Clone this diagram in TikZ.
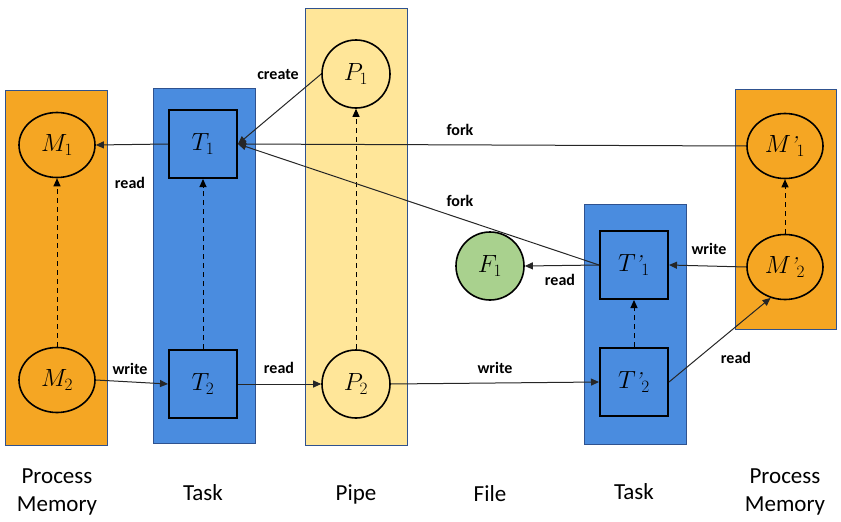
\documentclass[tikz,border=0pt]{standalone}
\usepackage{fontspec}
\setsansfont{Carlito}
\usetikzlibrary{arrows.meta,shapes.geometric}
\definecolor{orangefill}{HTML}{F5A623}
\definecolor{bluefill}{HTML}{4A8CDF}
\definecolor{pipefill}{HTML}{FFE699}
\definecolor{filefill}{HTML}{A9D18E}
\definecolor{colborder}{HTML}{2F528F}
\newcommand{\qmark}{\mkern-1mu\mbox{\itshape ’}{}}
\tikzset{
  col/.style={draw=colborder, line width=0.9pt, minimum width=102pt, inner sep=0pt},
  memnode/.style={ellipse, draw=black, line width=1.6pt, fill=orangefill, minimum width=76pt, minimum height=65pt, inner sep=0pt, font=\fontsize{23}{27}\selectfont},
  tasknode/.style={rectangle, draw=black, line width=2pt, fill=bluefill, minimum size=68pt, inner sep=0pt, font=\fontsize{23}{27}\selectfont},
  pipenode/.style={circle, draw=black, line width=1.6pt, fill=pipefill, minimum size=68pt, inner sep=0pt, font=\fontsize{23}{27}\selectfont},
  filenode/.style={circle, draw=black, line width=1.6pt, fill=filefill, minimum size=68pt, inner sep=0pt, font=\fontsize{23}{27}\selectfont},
  conn/.style={draw=black!85, line width=1pt, -{Triangle[length=8pt,width=7pt]}},
  dconn/.style={draw=black, line width=1pt, dash pattern=on 5pt off 4pt, -{Triangle[length=8pt,width=7pt]}},
  lbl/.style={font=\sffamily\bfseries\fontsize{16}{19}\selectfont, inner sep=0pt},
  captext/.style={font=\sffamily\fontsize{23}{28}\selectfont, align=center, inner sep=0pt},
}
\begin{document}
\begin{tikzpicture}[x=1pt,y=-1pt]
\useasboundingbox (0,0) rectangle (841,522);
% columns
\node[col, fill=orangefill, minimum height=355pt] (colA) at (56,267.5) {};
\node[col, fill=bluefill, minimum height=355pt] (colB) at (204,265.5) {};
\node[col, fill=pipefill, minimum height=437pt] (colC) at (356,226.5) {};
\node[col, fill=bluefill, minimum height=240pt] (colD) at (635,324) {};
\node[col, fill=orangefill, minimum height=240pt, minimum width=101pt] (colE) at (785.5,209) {};
% nodes
\node[memnode] (M1) at (57,145) {$M_1$};
\node[memnode] (M2) at (57,380) {$M_2$};
\node[tasknode] (T1) at (203,144) {$T_1$};
\node[tasknode] (T2) at (203,384) {$T_2$};
\node[pipenode] (P1) at (356,74) {$P_1$};
\node[pipenode] (P2) at (356,384) {$P_2$};
\node[filenode] (F1) at (490,266) {$F_1$};
\node[tasknode] (Tp1) at (634,265) {$T\qmark_1$};
\node[tasknode] (Tp2) at (634,382) {$T\qmark_2$};
\node[memnode] (Mp1) at (785,146) {$M\qmark_1$};
\node[memnode] (Mp2) at (785,267) {$M\qmark_2$};
% dashed
\draw[dconn] (M2) -- (M1);
\draw[dconn] (T2) -- (T1);
\draw[dconn] (P2) -- (P1);
\draw[dconn] (Tp2) -- (Tp1);
\draw[dconn] (Mp2) -- (Mp1);
% solid
\draw[conn] (T1.west) -- (M1.east);
\draw[conn] (Mp1.west) -- (T1.east);
\draw[conn] (Tp1.west) -- (T1.east);
\draw[conn] (P1.west) -- (T1.east);
\draw[conn] (M2.east) -- (T2.west);
\draw[conn] (T2.east) -- (P2.west);
\draw[conn] (P2.east) -- (Tp2.west);
\draw[conn] (Tp1.west) -- (F1.east);
\draw[conn] (Mp2.west) -- (Tp1.east);
\draw[conn] (Tp2.east) -- (Mp2.-115);
% labels
\node[lbl] (l1) at (130,183) {read};
\node[lbl] (l2) at (278,75) {create};
\node[lbl] (l3) at (460,130) {fork};
\node[lbl] (l4) at (460,201) {fork};
\node[lbl] (l5) at (130,369) {write};
\node[lbl] (l6) at (279,368) {read};
\node[lbl] (l7) at (495,368) {write};
\node[lbl] (l8) at (560,280) {read};
\node[lbl] (l9) at (709,249) {write};
\node[lbl] (l10) at (736,358) {read};
% captions
\node[captext] (c1) at (57,492) {Process\\Memory};
\node[captext] (c2) at (203,493) {Task};
\node[captext] (c3) at (356,494) {Pipe};
\node[captext] (c4) at (490,494) {File};
\node[captext] (c5) at (634,492) {Task};
\node[captext] (c6) at (785,492) {Process\\Memory};
\end{tikzpicture}
\end{document}
